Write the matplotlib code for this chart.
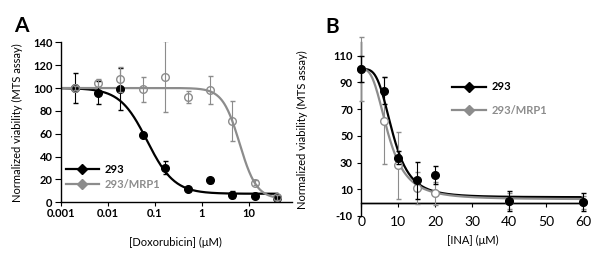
import matplotlib
matplotlib.use("Agg")
import matplotlib.pyplot as plt
from matplotlib.lines import Line2D
import numpy as np

plt.rcParams['font.family'] = ['Lato', 'DejaVu Sans']

# ---- panel A: doxorubicin ----
dox_conc = [0.002, 0.0061, 0.0183, 0.0549, 0.165, 0.494, 1.48, 4.44, 13.3, 40.0]
dox_293 = [100, 95.9, 99.1, 59.2, 30.4, 11.4, 19.2, 6.7, 5.8, 3.8]
dox_293_err = [13, 10, 18, 1.5, 6, 1.5, 2, 3, 1.5, 1.5]
dox_mrp1 = [100, 104.7, 107.6, 98.8, 109.9, 92.1, 98.3, 70.9, 17.2, 4.4]
dox_mrp1_err = [2, 3.5, 11, 11, 31, 5.5, 12.5, 17.5, 2, 2]
# fitted dose-response parameters: top, bottom, IC50, hill slope
dox_fit_293 = [100, 7.5, 0.068, 1.5]
dox_fit_mrp1 = [100, 3.0, 6.3, 2.4]

# ---- panel B: INA ----
ina_conc = [0, 6, 10, 15, 20, 40, 60]
ina_293 = [100, 83.8, 33.6, 16.7, 20.7, 1.2, 0.2]
ina_293_err = [10, 10, 5, 14, 7, 7.8, 6.8]
ina_mrp1 = [100, 61.4, 27.9, 11.2, 7.0, 1.0, 0.2]
ina_mrp1_err = [24, 32.5, 25, 12, 8.5, 6, 5]
ina_fit_293 = [100, 4.0, 8.5, 3.6]
ina_fit_mrp1 = [100, 2.5, 7.3, 2.9]

legend_labels = ['293', '293/MRP1']
BLACK = '#000000'
GRAY = '#8c8c8c'


def hill(x, p):
    top, bottom, ic50, h = p
    return bottom + (top - bottom) / (1 + (np.asarray(x) / ic50) ** h)


fig = plt.figure(figsize=(6, 2.57), dpi=100)
axA = fig.add_axes([0.1017, 0.2128, 0.3845, 0.6226])
axB = fig.add_axes([0.6022, 0.1597, 0.370, 0.6753])

tick_font = dict(fontsize=8, fontweight='bold')

# panel A
xs = np.logspace(-3, np.log10(40), 300)
axA.plot(xs, hill(xs, dox_fit_293), color=BLACK, lw=1.6, zorder=2)
axA.plot(xs, hill(xs, dox_fit_mrp1), color=GRAY, lw=1.6, zorder=2)
axA.errorbar(dox_conc, dox_293, yerr=dox_293_err, fmt='o', ms=5.5,
             color=BLACK, ecolor=BLACK, elinewidth=0.8, capsize=1.8, zorder=3)
axA.errorbar(dox_conc, dox_mrp1, yerr=dox_mrp1_err, fmt='o', ms=5.5,
             mfc='none', mec=GRAY, mew=1.0, color=GRAY, ecolor=GRAY,
             elinewidth=0.8, capsize=1.8, zorder=4)
axA.set_xscale('log')
axA.set_xlim(0.001, 81)
axA.set_ylim(0, 140)
axA.set_yticks(range(0, 141, 20))
axA.set_xticks([0.001, 0.01, 0.1, 1, 10])
axA.set_xticklabels(['0.001', '0.01', '0.1', '1', '10'], **tick_font)
axA.set_yticklabels([str(v) for v in range(0, 141, 20)], **tick_font)
axA.minorticks_off()
axA.tick_params(axis='x', length=3, width=0.8, pad=1)
axA.tick_params(axis='y', length=4, width=0.8, pad=2)
axA.set_xlabel('[Doxorubicin] (\u03bcM)', fontsize=8)
axA.set_ylabel('Normalized viability (MTS assay)', fontsize=8)
axA.xaxis.set_label_coords(0.494, -0.215)
axA.yaxis.set_label_coords(-0.165, 0.5)
for s in ['top', 'right']:
    axA.spines[s].set_visible(False)
for s in ['left', 'bottom']:
    axA.spines[s].set_linewidth(1.0)

# panel B
xl = np.linspace(0, 60, 300)
axB.axhline(0, color=BLACK, lw=1.0, zorder=1)
axB.plot(xl, hill(xl, ina_fit_293), color=BLACK, lw=1.6, zorder=2)
axB.plot(xl, hill(xl, ina_fit_mrp1), color=GRAY, lw=1.6, zorder=2)
axB.errorbar(ina_conc, ina_mrp1, yerr=ina_mrp1_err, fmt='o', ms=5.5,
             mfc='white', mec=GRAY, mew=1.0, color=GRAY, ecolor=GRAY,
             elinewidth=0.8, capsize=1.8, zorder=3, clip_on=False)
axB.errorbar(ina_conc, ina_293, yerr=ina_293_err, fmt='o', ms=5.5,
             color=BLACK, ecolor=BLACK, elinewidth=0.8, capsize=1.8,
             zorder=4, clip_on=False)
axB.set_xlim(0, 60)
axB.set_ylim(-10, 120)
axB.set_yticks(range(-10, 111, 20))
axB.set_yticklabels([str(v) for v in range(-10, 111, 20)], **tick_font)
axB.set_xticks(range(0, 61, 10))
axB.set_xticklabels([str(v) for v in range(0, 61, 10)], **tick_font)
axB.spines['bottom'].set_position(('data', 0))
axB.tick_params(axis='x', length=3, width=0.8, pad=6.5)
axB.tick_params(axis='y', length=3, width=0.8, pad=3)
axB.set_ylabel('Normalized viability (MTS assay)', fontsize=8)
axB.yaxis.set_label_coords(-0.24, 0.5)
fig.text(0.788, 0.066, '[INA] (\u03bcM)', fontsize=8, ha='center', va='center')
for s in ['top', 'right']:
    axB.spines[s].set_visible(False)
for s in ['left', 'bottom']:
    axB.spines[s].set_linewidth(1.0)

# legends
def make_handles():
    return [Line2D([0], [0], color=BLACK, lw=1.6, marker='D', ms=5),
            Line2D([0], [0], color=GRAY, lw=1.6, marker='D', ms=5)]

legA = axA.legend(make_handles(), legend_labels, loc='upper left',
                  bbox_to_anchor=(0.02, 0.24), frameon=False, borderpad=0,
                  borderaxespad=0, handlelength=3.0, handletextpad=0.5,
                  labelspacing=0.4, prop=dict(size=8, weight='bold'),
                  labelcolor=[BLACK, GRAY])
legB = axB.legend(make_handles(), legend_labels, loc='upper left',
                  bbox_to_anchor=(0.41, 0.775), frameon=False, borderpad=0,
                  borderaxespad=0, handlelength=3.0, handletextpad=0.5,
                  labelspacing=1.1, prop=dict(size=8, weight='bold'),
                  labelcolor=[BLACK, GRAY])

fig.text(0.035, 0.9, 'A', fontsize=15, fontweight='bold', ha='center', va='center')
fig.text(0.553, 0.895, 'B', fontsize=15, fontweight='bold', ha='center', va='center')

fig.savefig('out.png', dpi=100)
